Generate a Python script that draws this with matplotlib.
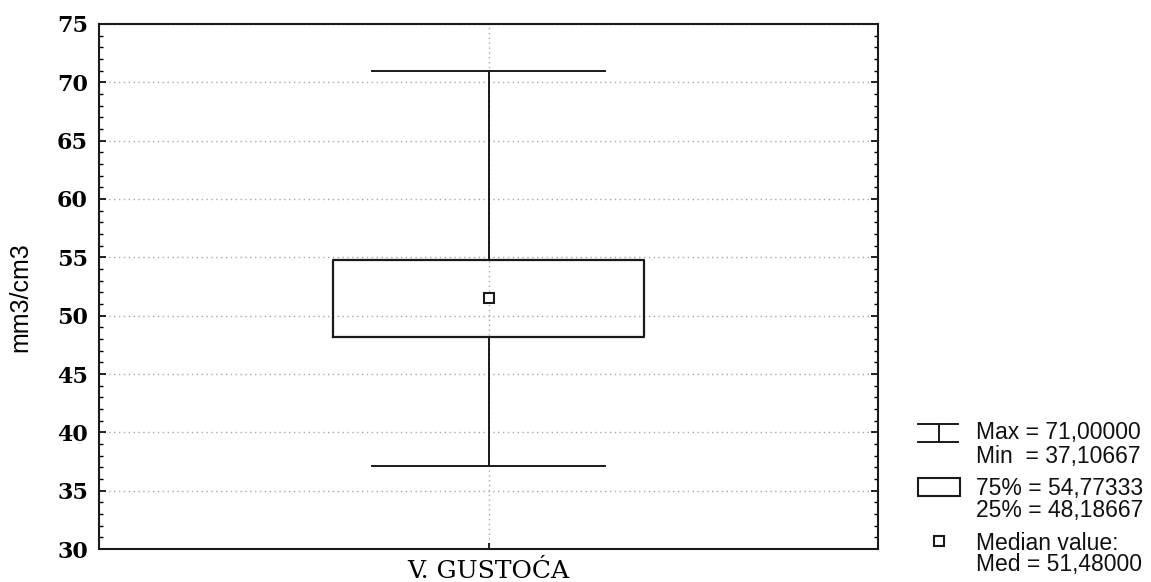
import matplotlib
matplotlib.use("Agg")
import matplotlib.pyplot as plt
from matplotlib.lines import Line2D
from matplotlib.patches import Rectangle
from matplotlib.ticker import MultipleLocator

# ---- data ----
categories = ["V. GUSTOĆA"]
max_vals = [71.00000]
min_vals = [37.10667]
q75_vals = [54.77333]
q25_vals = [48.18667]
med_vals = [51.48000]
ylabel = "mm3/cm3"
yticks = [30, 35, 40, 45, 50, 55, 60, 65, 70, 75]
legend_lines = [
    ("Max = 71,00000", "Min  = 37,10667"),
    ("75% = 54,77333", "25% = 48,18667"),
    ("Median value:", "Med = 51,48000"),
]

W, H = 1151, 582
fig = plt.figure(figsize=(W / 100, H / 100), dpi=100)
ax = fig.add_axes([99 / W, 1 - 549 / H, (878 - 99) / W, (549 - 24) / H])

stats = []
for i, c in enumerate(categories):
    stats.append(dict(label=c, med=med_vals[i], q1=q25_vals[i], q3=q75_vals[i],
                      whislo=min_vals[i], whishi=max_vals[i], fliers=[]))
positions = list(range(1, len(categories) + 1))
ax.bxp(stats, positions=positions, widths=0.4, capwidths=[0.3] * len(stats),
       showfliers=False,
       boxprops=dict(color="#1a1a1a", linewidth=1.6),
       whiskerprops=dict(color="#1a1a1a", linewidth=1.4),
       capprops=dict(color="#1a1a1a", linewidth=1.4),
       medianprops=dict(linewidth=0),
       zorder=3)
ax.plot(positions, med_vals, linestyle="none", marker="s", markersize=6.5,
        markerfacecolor="white", markeredgecolor="#1a1a1a", markeredgewidth=1.5, zorder=4)

ax.set_xlim(0.5, len(categories) + 0.5)
ax.set_ylim(yticks[0], yticks[-1])
ax.set_yticks(yticks)
ax.yaxis.set_minor_locator(MultipleLocator(1))
ax.set_xticks(positions)
ax.set_xticklabels(categories, fontfamily="DejaVu Serif", fontsize=18)
for lab in ax.get_yticklabels():
    lab.set_fontfamily("DejaVu Serif")
    lab.set_fontweight("bold")
    lab.set_fontsize(16)

ax.tick_params(axis="y", which="major", direction="in", length=5, width=1.2,
               left=True, right=True, pad=8)
ax.tick_params(axis="y", which="minor", direction="in", length=3, width=1.0,
               left=True, right=True)
ax.tick_params(axis="x", which="major", direction="in", length=4, width=1.2,
               bottom=True, top=False, pad=8)

ax.grid(True, which="major", axis="both", color="#a8a8a8", linestyle=(0, (1, 2.5)),
        linewidth=1.0, zorder=0)
for s in ax.spines.values():
    s.set_linewidth(1.5)
    s.set_color("#1a1a1a")

ax.set_ylabel(ylabel, fontfamily="Liberation Sans", fontstretch="normal", fontsize=18)
ax.yaxis.set_label_coords(-0.085, 0.48)

# ---- legend (drawn manually in figure pixels) ----
def fx(px):
    return px / W

def fy(py):
    return 1 - py / H

lc = "#1a1a1a"
# whisker symbol
fig.add_artist(Line2D([fx(918), fx(958)], [fy(424), fy(424)], color=lc, lw=1.4))
fig.add_artist(Line2D([fx(918), fx(958)], [fy(442), fy(442)], color=lc, lw=1.4))
fig.add_artist(Line2D([fx(938.5), fx(938.5)], [fy(424), fy(442)], color=lc, lw=1.4))
# box symbol
fig.add_artist(Rectangle((fx(918), fy(496)), fx(960) - fx(918), fy(478) - fy(496),
                         facecolor="white", edgecolor=lc, lw=1.5))
# median symbol
fig.add_artist(Line2D([fx(939)], [fy(541)], marker="s", markersize=6.5,
                      markerfacecolor="white", markeredgecolor=lc, markeredgewidth=1.5,
                      linestyle="none"))

text_y = [(433, 456), (488, 511), (543, 565)]
for (t1, t2), (y1, y2) in zip(legend_lines, text_y):
    fig.text(fx(976), fy(y1), t1, fontfamily="Liberation Sans", fontstretch="normal",
             fontsize=16.5, va="center", ha="left", color="#111111")
    fig.text(fx(976), fy(y2), t2, fontfamily="Liberation Sans", fontstretch="normal",
             fontsize=16.5, va="center", ha="left", color="#111111")

fig.savefig("out.png", dpi=100)
